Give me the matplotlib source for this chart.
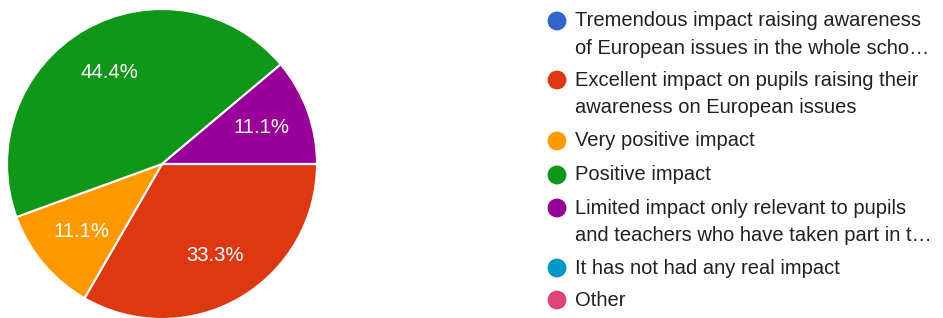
import matplotlib
matplotlib.use("Agg")
import matplotlib.pyplot as plt

plt.rcParams['font.family'] = ['Liberation Sans', 'DejaVu Sans']

categories = [
    "Tremendous impact raising awareness\nof European issues in the whole scho…",
    "Excellent impact on pupils raising their\nawareness on European issues",
    "Very positive impact",
    "Positive impact",
    "Limited impact only relevant to pupils\nand teachers who have taken part in t…",
    "It has not had any real impact",
    "Other",
]
percentages = [0.0, 33.3, 11.1, 44.4, 11.1, 0.0, 0.0]
colors = ["#3366CC", "#DC3912", "#FF9900", "#109618", "#990099", "#0099C6", "#DD4477"]

W, H = 943, 318
fig = plt.figure(figsize=(W / 100, H / 100), dpi=100)

# Pie axes: center (162, 164) px from top-left, radius 155 px
cx, cy, r = 162, 164, 155
ax = fig.add_axes([(cx - r) / W, (H - cy - r) / H, 2 * r / W, 2 * r / H])

def fmt(p):
    return f"{p:.1f}%" if p > 0.5 else ""

wedges, texts, autotexts = ax.pie(
    percentages, colors=colors, startangle=0, counterclock=False,
    autopct=fmt, pctdistance=0.68,
    wedgeprops=dict(edgecolor="white", linewidth=1.5),
    textprops=dict(color="white", fontsize=14.6),
)
ax.set_xlim(-1, 1)
ax.set_ylim(-1, 1)
ax.set_aspect("equal")
for w in wedges:
    w.set_clip_on(False)

# Legend drawn in pixel coordinates on an overlay axes
lax = fig.add_axes([0, 0, 1, 1])
lax.set_xlim(0, W)
lax.set_ylim(H, 0)
lax.axis("off")

entry_y = [21, 80, 141, 175, 208, 268, 300]
line_gap = 27.5
for cat, col, y in zip(categories, colors, entry_y):
    lax.scatter([557], [y], s=185, color=col, edgecolors="none")
    for i, line in enumerate(cat.split("\n")):
        lax.text(575, y + i * line_gap, line, fontsize=14.5, color="#212121",
                 va="center", ha="left")

fig.savefig("out.png", dpi=100)
